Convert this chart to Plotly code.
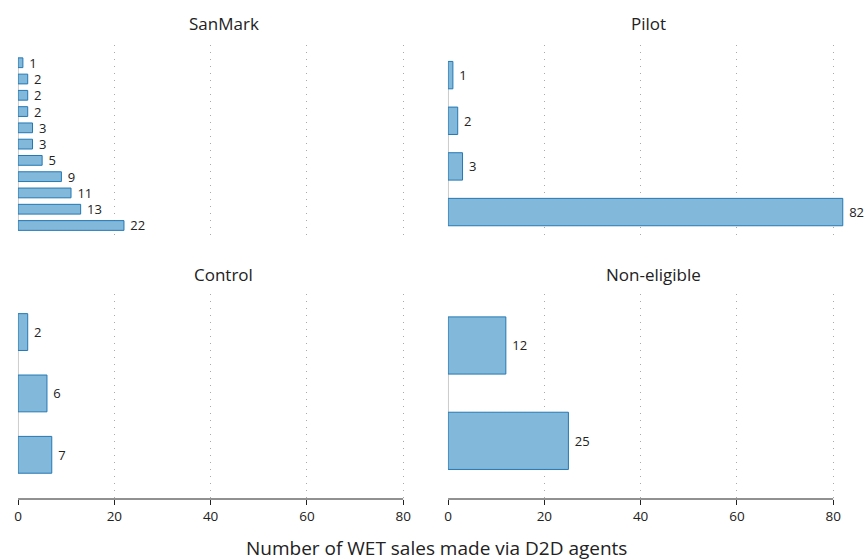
import plotly.graph_objects as go
from plotly.subplots import make_subplots

# values listed bottom bar first
sanmark_labels = ["S1", "S2", "S3", "S4", "S5", "S6", "S7", "S8", "S9", "S10", "S11"]
sanmark_values = [22, 13, 11, 9, 5, 3, 3, 2, 2, 2, 1]
pilot_labels = ["P1", "P2", "P3", "P4"]
pilot_values = [82, 3, 2, 1]
control_labels = ["C1", "C2", "C3"]
control_values = [7, 6, 2]
noneligible_labels = ["N1", "N2"]
noneligible_values = [25, 12]

panel_titles = ["SanMark", "Pilot", "Control", "Non-eligible"]
x_ticks = [0, 20, 40, 60, 80]
x_title = "Number of WET sales made via D2D agents"

FONT = "Open Sans, Noto Sans, sans-serif"
FILL = "#82b8da"
EDGE = "#2478b4"

W, H = 866, 560
X_MAX = 82.4  # room so the 82 bar is not cut off
PX_PER_UNIT = 387 / 80

panels = [
    (sanmark_labels, sanmark_values, 1, 1, [-0.83, 11.09]),
    (pilot_labels, pilot_values, 1, 2, [-0.59, 3.66]),
    (control_labels, control_values, 2, 1, [-0.72, 2.62]),
    (noneligible_labels, noneligible_values, 2, 2, [-0.61, 1.54]),
]

fig = make_subplots(rows=2, cols=2)

for labels, values, r, c, yr in panels:
    fig.add_trace(go.Bar(
        y=labels, x=values, orientation="h", width=0.6,
        marker=dict(color=FILL, line=dict(color=EDGE, width=1)),
        text=values, texttemplate=" %{x}", textposition="outside",
        constraintext="none",
        textfont=dict(size=13, color="#222", family=FONT),
        cliponaxis=False, showlegend=False, hoverinfo="x",
    ), row=r, col=c)
    bottom = r == 2
    fig.update_xaxes(
        range=[-0.03, X_MAX], tickvals=x_ticks, showgrid=True, gridcolor="#aaaaaa",
        griddash="1px,6px", gridwidth=1, zeroline=False, showline=False,
        ticks="outside" if bottom else "", ticklen=5, tickcolor="#222",
        showticklabels=bottom, tickfont=dict(size=13.5, color="#222", family=FONT),
        row=r, col=c)
    fig.update_yaxes(range=yr, showgrid=False, zeroline=False, showline=False,
                     showticklabels=False, ticks="", row=r, col=c)

for i, (labels, values, r, c, yr) in enumerate(panels):
    ax = "" if i == 0 else str(i + 1)
    # baseline at zero spanning the bars
    fig.add_shape(type="line", xref="x" + ax, yref="y" + ax, x0=0, x1=0,
                  y0=-0.3, y1=len(values) - 0.7,
                  line=dict(color="#aaaaaa", width=1), layer="below")
    if r == 2:
        # axis line from first to last tick only
        fig.add_shape(type="line", xref="x" + ax, yref="y" + ax + " domain",
                      x0=x_ticks[0], x1=x_ticks[-1], y0=0, y1=0,
                      line=dict(color="#222", width=1), layer="above")

span = X_MAX * PX_PER_UNIT
left = [14 / W, (14 + span) / W]
right = [446 / W, min(1, (446 + span) / W)]
top = [1 - 239 / H, 1 - 45 / H]
bot = [1 - 499 / H, 1 - 294 / H]
fig.update_layout(
    xaxis=dict(domain=left), yaxis=dict(domain=top),
    xaxis2=dict(domain=right), yaxis2=dict(domain=top),
    xaxis3=dict(domain=left), yaxis3=dict(domain=bot),
    xaxis4=dict(domain=right), yaxis4=dict(domain=bot),
)

title_pos = [(221, 24), (647, 24), (221, 274), (653, 274)]
for t, (px_, py_) in zip(panel_titles, title_pos):
    fig.add_annotation(text=t, xref="paper", yref="paper", x=px_ / W, y=1 - py_ / H,
                       showarrow=False, xanchor="center", yanchor="middle",
                       font=dict(size=17, color="#222", family=FONT))

fig.add_annotation(text=x_title, xref="paper", yref="paper", x=435 / W, y=1 - 548 / H,
                   showarrow=False, xanchor="center", yanchor="middle",
                   font=dict(size=19, color="#222", family=FONT))

fig.update_layout(
    autosize=True, margin=dict(l=0, r=0, t=0, b=0),
    plot_bgcolor="white", paper_bgcolor="white",
    font=dict(family=FONT, color="#222"),
)

fig.write_html("out.html", config={"displayModeBar": False},
               default_width="100vw", default_height="100vh",
               post_script="document.body.style.margin='0';")
